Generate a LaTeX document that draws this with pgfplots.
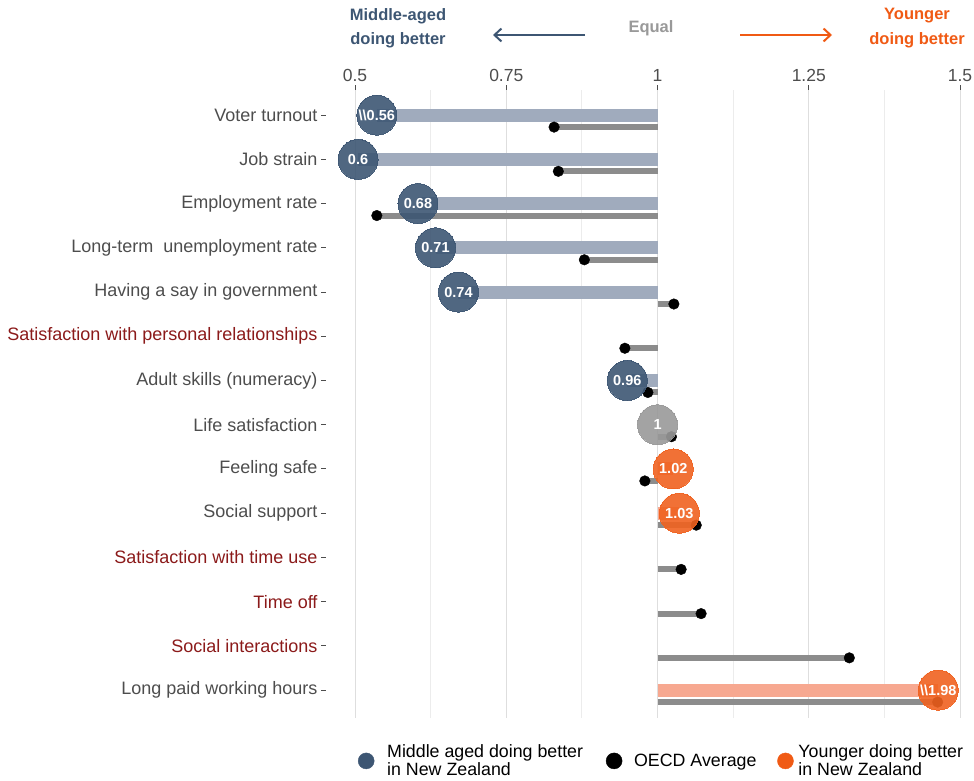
\documentclass[border=0pt]{standalone}
\usepackage{fontspec}
\setmainfont{Liberation Sans}
\usepackage{pgfplots}
\pgfplotsset{compat=1.18}
\usetikzlibrary{arrows.meta}
\definecolor{cblue}{RGB}{61,86,115}
\definecolor{cbarblue}{RGB}{160,171,189}
\definecolor{corange}{RGB}{240,98,32}
\definecolor{ctorange}{RGB}{240,90,20}
\definecolor{cbarorange}{RGB}{247,168,144}
\definecolor{cgreyc}{RGB}{153,153,153}
\definecolor{coecd}{RGB}{140,140,140}
\definecolor{cred}{RGB}{139,26,26}
\definecolor{labc}{RGB}{77,77,77}
\definecolor{gmaj}{RGB}{222,222,222}
\definecolor{gmin}{RGB}{236,236,236}
\begin{document}
\begin{tikzpicture}
\useasboundingbox (0pt,0pt) rectangle (974pt,780pt);
\begin{axis}[
  at={(326pt,62pt)}, anchor=south west,
  x=605pt, y=44.23pt, y dir=reverse,
  xmin=0.452, xmax=1.5165, ymin=-0.565, ymax=13.63,
  clip=false,
  axis line style={draw=none},
  xtick={0.5,0.75,1,1.25,1.5},
  minor xtick={0.625,0.875,1.125,1.375},
  xmajorgrids, xminorgrids,
  major grid style={line width=1pt, color=gmaj},
  minor grid style={line width=1pt, color=gmin},
  xtick pos=right, xticklabel pos=right,
  ytick={0,...,13},
  yticklabels={Voter turnout, Job strain, Employment rate, Long-term\ \ unemployment rate, Having a say in government, \textcolor{cred}{Satisfaction with personal relationships}, Adult skills (numeracy), Life satisfaction, Feeling safe, Social support, \textcolor{cred}{Satisfaction with time use}, \textcolor{cred}{Time off}, \textcolor{cred}{Social interactions}, Long paid working hours},
  ytick pos=left,
  tick align=outside,
  major tick length=5pt,
  minor tick length=0pt,
  tick style={color=labc, line width=1pt},
  ticklabel style={text=labc},
  yticklabel style={font=\fontsize{18}{20}\selectfont},
  xticklabel style={font=\fontsize{17.5}{20}\selectfont},
  /pgf/number format/assume math mode=true,
  legend columns=3,
  legend style={at={(0.045,-0.036)}, anchor=north west, draw=none, fill=none,
    font=\fontsize{17.8}{17.8}\selectfont, cells={align=left, anchor=west},
    nodes={inner sep=2pt},
    /tikz/column 1/.append style={column sep=11pt},
    /tikz/column 2/.append style={column sep=21pt},
    /tikz/column 3/.append style={column sep=10pt},
    /tikz/column 4/.append style={column sep=19pt},
    /tikz/column 5/.append style={column sep=3pt}},
]
% country bars (middle-aged better)
\addplot[forget plot, line width=13pt, color=cbarblue, unbounded coords=jump] coordinates {
(1,0) (0.536,0) (nan,nan)
(1,1) (0.505,1) (nan,nan)
(1,2) (0.604,2) (nan,nan)
(1,3) (0.633,3) (nan,nan)
(1,4) (0.671,4) (nan,nan)
(1,6) (0.950,6)};
% country bars (younger better)
\addplot[forget plot, line width=13pt, color=cbarorange, unbounded coords=jump] coordinates {
(1,8) (1.026,8) (nan,nan)
(1,9) (1.036,9) (nan,nan)
(1,13) (1.464,13)};
% OECD bars
\addplot[forget plot, line width=6pt, color=coecd, unbounded coords=jump] coordinates {
(1,0.27) (0.829,0.27) (nan,nan)
(1,1.27) (0.836,1.27) (nan,nan)
(1,2.27) (0.536,2.27) (nan,nan)
(1,3.27) (0.879,3.27) (nan,nan)
(1,4.27) (1.027,4.27) (nan,nan)
(1,5.27) (0.946,5.27) (nan,nan)
(1,6.27) (0.984,6.27) (nan,nan)
(1,7.27) (1.023,7.27) (nan,nan)
(1,8.27) (0.979,8.27) (nan,nan)
(1,9.27) (1.064,9.27) (nan,nan)
(1,10.27) (1.039,10.27) (nan,nan)
(1,11.27) (1.072,11.27) (nan,nan)
(1,12.27) (1.317,12.27) (nan,nan)
(1,13.27) (1.463,13.27)};
% OECD dots
\addplot[forget plot, only marks, mark=*, mark size=5.3pt, color=black] coordinates {
(0.829,0.27) (0.836,1.27) (0.536,2.27) (0.879,3.27) (1.027,4.27) (0.946,5.27) (0.984,6.27)
(1.023,7.27) (0.979,8.27) (1.064,9.27) (1.039,10.27) (1.072,11.27) (1.317,12.27) (1.463,13.27)};
% bubbles
\pgfplotsset{bubble/.style={forget plot, only marks, mark=*, mark size=20pt, color=#1,
  mark options={draw=#1, line width=0pt, fill=#1, opacity=0.9},
  point meta=explicit symbolic, nodes near coords, nodes near coords align={center},
  every node near coord/.style={anchor=center, text=white, opacity=1,
    font=\bfseries\fontsize{14.5}{14.5}\selectfont}}}
\addplot[bubble=cblue] coordinates {
(0.536,0) [\textbackslash\textbackslash0.56]
(0.505,1) [0.6]
(0.604,2) [0.68]
(0.633,3) [0.71]
(0.671,4) [0.74]
(0.950,6) [0.96]};
\addplot[bubble=cgreyc] coordinates {(1,7) [1]};
\addplot[bubble=corange] coordinates {
(1.026,8) [1.02]
(1.036,9) [1.03]
(1.464,13) [\textbackslash\textbackslash1.98]};
% legend
\addlegendimage{only marks, mark=*, mark size=8pt, color=cblue}
\addlegendentry{Middle aged doing better\\in New Zealand}
\addlegendimage{only marks, mark=*, mark size=8pt, color=black}
\addlegendentry{OECD Average}
\addlegendimage{only marks, mark=*, mark size=8pt, color=ctorange}
\addlegendentry{Younger doing better\\in New Zealand}
\end{axis}
% header
\begin{scope}[every node/.style={font=\bfseries\fontsize{16.5}{16.5}\selectfont, inner sep=0pt}]
\node[text=cblue] at (398pt,764pt) {Middle-aged};
\node[text=cblue] at (398pt,740pt) {doing better};
\node[text=cgreyc] at (651pt,752pt) {Equal};
\node[text=ctorange] at (917pt,764pt) {Younger};
\node[text=ctorange] at (917pt,740pt) {doing better};
\end{scope}
\draw[cblue, line width=2pt, -{Straight Barb[length=7pt, width=13pt, line width=2pt]}] (585pt,745pt) -- (493pt,745pt);
\draw[ctorange, line width=2pt, -{Straight Barb[length=7pt, width=13pt, line width=2pt]}] (740pt,745pt) -- (832pt,745pt);
\end{tikzpicture}
\end{document}
